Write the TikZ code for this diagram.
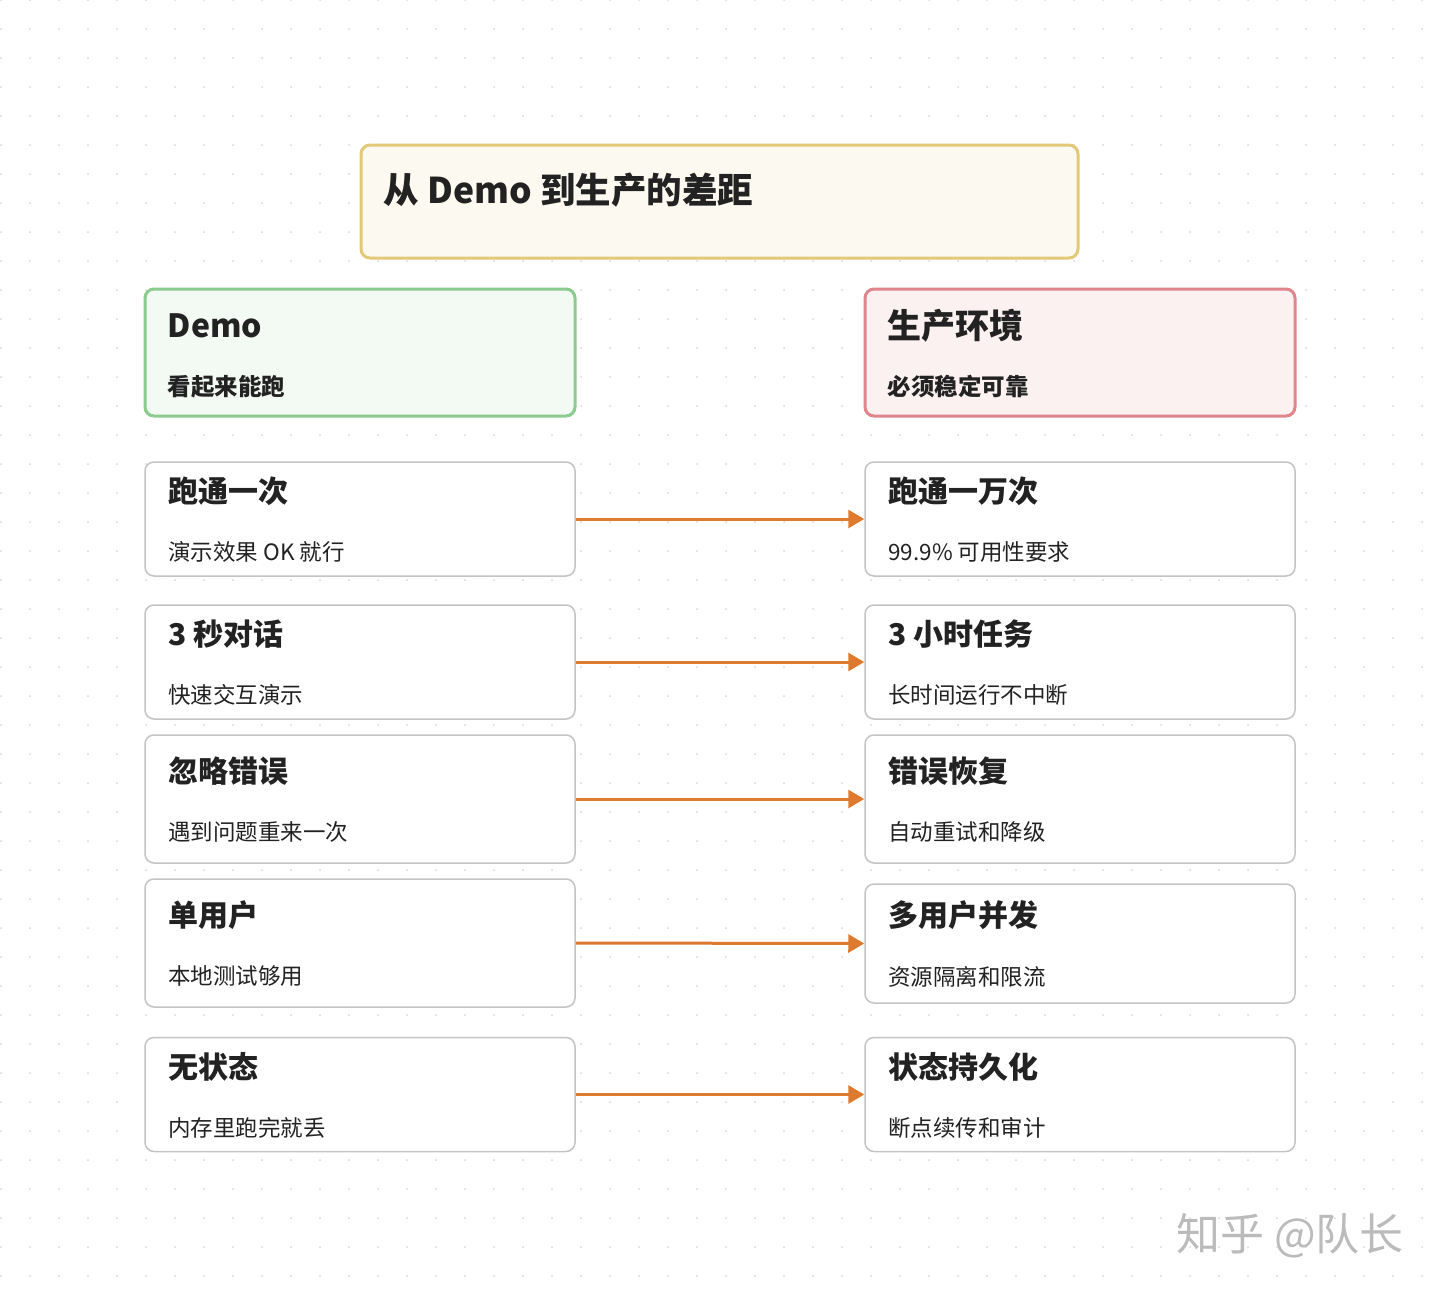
\documentclass[tikz,border=0pt]{standalone}
\usepackage{fontspec}
\setmainfont{Noto Sans CJK SC}
\usepackage{xcolor}
\usetikzlibrary{positioning, arrows.meta}

\definecolor{inkc}{HTML}{222222}
\definecolor{dotc}{HTML}{D8D8D8}
\definecolor{headfill}{HTML}{FCFAF0}
\definecolor{headdraw}{HTML}{E3C878}
\definecolor{demofill}{HTML}{F3F9F3}
\definecolor{demodraw}{HTML}{8CCB8E}
\definecolor{prodfill}{HTML}{FCF1F1}
\definecolor{proddraw}{HTML}{E0858C}
\definecolor{carddraw}{HTML}{C4C4C4}
\definecolor{arrowc}{HTML}{DD7A2E}
\definecolor{markc}{HTML}{BBBBBB}

\begin{document}
\begin{tikzpicture}[x=1pt, y=-1pt, >={Triangle[length=16pt,width=18pt]},
        card/.style={draw=carddraw, fill=white, line width=1.5pt, rounded corners=9pt,
                     minimum width=430pt, inner sep=0pt},
        banner/.style={card, line width=3pt},
        big/.style={anchor=west, inner sep=0pt, text=inkc, font=\fontsize{30}{35}\selectfont\bfseries},
        small/.style={anchor=west, inner sep=0pt, text=inkc, font=\fontsize{22.5}{27}\selectfont},
        smallbold/.style={small, font=\fontsize{23.5}{28}\selectfont\bfseries},
        link/.style={->, draw=arrowc, line width=3pt}]

    \useasboundingbox (0,0) rectangle (1440,1296);
    \fill[white] (0,0) rectangle (1440,1296);

    % dotted background
    \foreach \i in {0,...,49}
        \foreach \j in {0,...,44}
            \fill[dotc] (1+29*\i, 29*\j) circle (1pt);

    % heading
    \node[banner, draw=headdraw, fill=headfill, minimum width=717pt, minimum height=113pt] (head) at (719.5,201.5) {};
    \node[anchor=west, inner sep=0pt, text=inkc, font=\fontsize{35.5}{42}\selectfont\bfseries]
        at ([xshift=24pt,yshift=11pt]head.west) {从 Demo 到生产的差距};

    % column heads
    \node[banner, draw=demodraw, fill=demofill, minimum height=127pt] (demo) at (360,352.5) {};
    \node[big, font=\fontsize{32}{38}\selectfont\bfseries] at ([xshift=24pt,yshift=27pt]demo.west) {Demo};
    \node[smallbold] at ([xshift=24pt,yshift=-34pt]demo.west) {看起来能跑};

    \node[banner, draw=proddraw, fill=prodfill, minimum height=127pt] (prod) at (1080,352.5) {};
    \node[big, font=\fontsize{34}{40}\selectfont\bfseries] at ([xshift=24pt,yshift=27pt]prod.west) {生产环境};
    \node[smallbold] at ([xshift=24pt,yshift=-34pt]prod.west) {必须稳定可靠};

    % demo side
    \node[card, minimum height=114pt] (l1) at (360,519) {};
    \node[card, minimum height=114pt] (l2) at (360,662) {};
    \node[card, minimum height=128pt] (l3) at (360,799) {};
    \node[card, minimum height=128pt] (l4) at (360,943) {};
    \node[card, minimum height=114pt] (l5) at (360,1094.5) {};

    % production side
    \node[card, minimum height=114pt] (r1) at (1080,519) {};
    \node[card, minimum height=114pt] (r2) at (1080,662) {};
    \node[card, minimum height=128pt] (r3) at (1080,799) {};
    \node[card, minimum height=119pt] (r4) at (1080,943.5) {};
    \node[card, minimum height=114pt] (r5) at (1080,1094.5) {};

    % card texts
    \foreach \n/\t/\s in {l1/跑通一次/演示效果 OK 就行, l2/3 秒对话/快速交互演示,
                          l3/忽略错误/遇到问题重来一次, l4/单用户/本地测试够用,
                          l5/无状态/内存里跑完就丢,
                          r1/跑通一万次/99.9\% 可用性要求, r2/3 小时任务/长时间运行不中断,
                          r3/错误恢复/自动重试和降级, r4/多用户并发/资源隔离和限流,
                          r5/状态持久化/断点续传和审计} {
        \node[big] at ([xshift=24pt,yshift=28pt]\n.west) {\t};
        \node[small] at ([xshift=24pt,yshift=-33pt]\n.west) {\s};
    }

    % arrows
    \foreach \k in {1,...,5}
        \draw[link] (l\k.east) -- (r\k.west);

    % watermark
    \node[inner sep=0pt, text=markc, font=\fontsize{44}{50}\selectfont] (mark) at (1290,1236) {知乎 @队长};

\end{tikzpicture}
\end{document}
